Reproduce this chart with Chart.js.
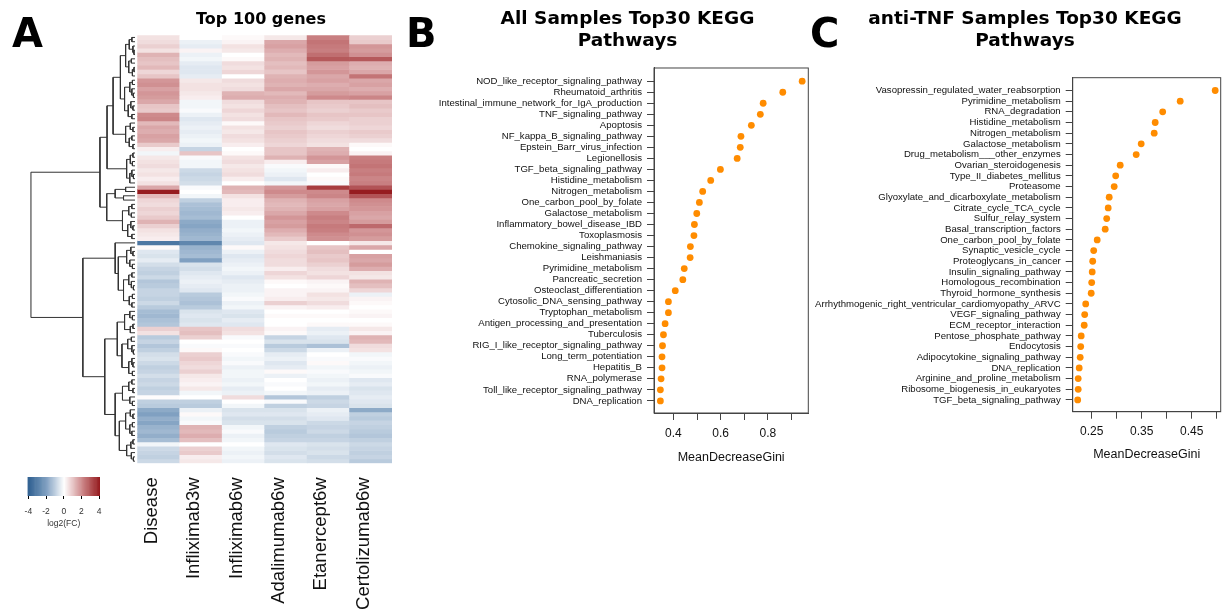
<!DOCTYPE html>
<html>
<head>
<meta charset="utf-8">
<script src="https://cdn.jsdelivr.net/npm/chart.js@4.4.1/dist/chart.umd.min.js"></script>
<style>
  body { margin:0; background:#fff; width:1226px; height:615px; overflow:hidden; position:relative; }
  canvas { position:absolute; }
  .tag { position:absolute; font-family:"DejaVu Sans"; font-weight:bold; font-size:40px; line-height:40px; color:#000; }
</style>
</head>
<body>
<canvas id="dendro" width="120" height="470" style="left:20px;top:0px"></canvas>
<canvas id="heat" width="262" height="615" style="left:130px;top:0px"></canvas>
<canvas id="cbar" width="100" height="62" style="left:20px;top:470px"></canvas>
<canvas id="chartB" width="455" height="480" style="left:400px;top:0px"></canvas>
<canvas id="chartC" width="430" height="480" style="left:810px;top:0px"></canvas>
<div class="tag" style="left:12px;top:13px">A</div>
<div class="tag" style="left:406px;top:13px">B</div>
<div class="tag" style="left:810px;top:13px">C</div>
<script>
//Heatmap columns
var columns = ['Disease', 'Infliximab3w', 'Infliximab6w', 'Adalimumab6w', 'Etanercept6w', 'Certolizumab6w'];

//log2(FC) per column, rows in dendrogram order
var disease = [0.5,0.6,0.8,0.5,1.3,1.1,1.0,1.2,0.7,1.0, 1.8,1.9,1.6,1.8,1.7,1.5,1.0,0.9,2.0,2.1,
  1.2,1.5,1.4,1.6,1.5,0.9,0.3,-0.2,0.4,0.5, 0.6,0.4,0.5,0.3,0.5,1.5,4.0,1.2,0.7,0.6,
  0.8,0.7,0.9,1.3,0.8,0.5,0.4,0.3,-3.3,0.1, -0.5,-0.6,-0.4,-0.7,-0.9,-1.0,-0.8,-1.2,-1.1,-0.9,
  -0.9,-1.0,-0.8,-1.1,-1.4,-1.5,-1.3,-1.2,0.8,0.5, -1.1,-0.9,-1.2,-1.0,-0.7,-0.6,-0.8,-1.0,-0.9,-0.7,
  -0.9,-0.8,-1.0,-0.9,0.05,-1.0,-1.1,-1.8,-2.0,-1.7, -1.9,-1.6,-1.5,-1.7,-1.4,-0.2,-0.8,-0.9,-1.0,-0.8];
var inflix3w = [0.0,-0.3,-0.4,0.2,-0.3,-0.2,-0.4,-0.5,-0.5,-0.4, 0.4,0.5,0.5,0.4,0.3,-0.2,-0.2,-0.1,-0.3,-0.5,
  -0.4,-0.3,-0.4,-0.3,-0.2,-0.3,-0.9,1.0,-0.1,-0.2, -0.2,-0.8,-0.9,-0.8,-0.7,-0.1,0.0,-0.2,-1.0,-1.3,
  -1.4,-1.5,-1.4,-1.8,-1.9,-1.7,-1.6,-1.5,-2.8,-1.6, -1.5,-1.4,-2.0,-0.6,-0.7,-0.5,-0.4,-0.3,-0.4,-0.5,
  -1.1,-1.2,-1.3,-1.1,-0.6,-0.5,-0.6,-0.5,1.0,1.1, 0.8,0.0,-0.1,0.1,0.8,0.9,0.7,0.6,0.8,0.4,
  0.3,0.2,0.4,-0.2,0.0,-1.0,-1.1,-0.3,0.1,-0.2, -0.1,1.3,1.2,1.4,1.1,0.0,0.8,0.9,0.3,0.4];
var inflix6w = [0.1,0.2,0.5,0.4,0.0,0.1,0.6,0.5,0.7,0.0, 0.6,0.5,0.6,1.3,1.4,0.6,0.5,0.7,0.5,0.6,
  0.1,0.5,0.4,0.6,0.5,0.3,0.0,0.1,0.5,0.6, 0.4,0.5,0.6,0.3,0.0,1.3,1.2,0.5,0.3,0.3,
  0.4,0.3,0.0,-0.3,-0.3,-0.2,-0.3,-0.4,-0.5,0.1, -0.3,-0.5,-0.4,-0.3,-0.2,-0.3,-0.5,-0.4,-0.3,-0.3,
  -0.2,-0.1,-0.3,-0.2,-0.5,-0.6,-0.4,-0.5,0.6,0.5, -0.1,0.0,-0.1,0.0,-0.1,-0.2,-0.1,-0.3,-0.2,-0.2,
  -0.3,-0.2,-0.4,-0.3,0.6,0.0,-0.2,-0.6,-0.5,-0.7, -0.6,-0.2,-0.1,-0.3,-0.2,0.0,-0.2,-0.3,-0.2,-0.3];
var adalim6w = [0.4,1.5,1.6,1.4,1.2,1.3,1.1,1.2,1.0,1.3, 1.4,1.3,1.5,1.2,1.4,1.3,1.1,1.0,1.2,1.0,
  0.9,0.8,1.0,0.9,0.8,0.7,1.0,1.0,1.3,0.3, -0.1,-0.2,-0.3,-0.5,-0.2,1.8,2.0,1.7,1.3,1.2,
  1.3,1.5,1.8,1.6,1.7,1.4,1.2,0.9,0.4,0.5, 0.6,0.7,0.6,0.6,0.3,0.7,0.5,0.1,0.0,0.2,
  0.2,0.3,0.8,0.2,0.0,0.1,0.0,0.0,0.2,0.1, -0.9,-0.6,-1.1,-0.8,-0.4,-0.3,-0.5,-0.4,0.1,-0.3,
  0.0,-0.1,0.0,-0.2,-1.2,-0.1,-1.0,-0.6,-0.5,-0.7, -0.6,-1.0,-1.1,-1.0,-0.9,-0.5,-0.6,-0.7,-0.5,-0.6];
var etaner6w = [2.2,2.4,2.3,2.2,2.5,2.9,1.7,1.6,1.8,1.5, 1.6,1.4,1.5,1.7,2.0,1.0,0.9,0.8,1.0,0.9,
  0.7,0.6,0.8,0.7,0.6,0.5,1.3,1.4,1.8,1.6, 0.1,0.3,0.0,0.1,-0.1,3.4,2.0,2.1,1.6,1.5,
  1.6,2.0,2.2,2.1,2.3,2.2,2.0,1.9,0.0,1.0, 1.1,0.9,1.0,0.8,0.6,0.5,0.7,0.2,0.1,0.2,
  0.5,0.4,0.6,0.3,0.0,0.1,0.0,0.1,-0.4,-0.3, -0.5,-0.6,-1.3,-0.3,0.0,-0.1,0.1,-0.2,-0.1,-0.2,
  -0.3,-0.2,-0.4,-0.3,-1.0,-0.8,-0.9,-0.3,-0.4,-0.5, -0.8,-0.9,-0.8,-1.0,-0.9,-0.6,-0.7,-0.6,-0.8,-0.7];
var certol6w = [0.8,0.9,1.8,1.7,1.9,2.9,1.4,1.3,1.5,2.4, 1.5,1.6,1.4,1.6,2.1,1.0,1.1,0.9,1.0,0.8,
  0.8,0.7,0.9,0.8,0.6,0.1,0.0,0.2,2.2,2.3, 2.4,2.2,2.3,2.1,2.2,3.0,4.0,3.0,2.0,1.9,
  1.8,1.6,1.5,1.7,2.6,1.8,1.9,1.7,0.4,1.5, 0.0,1.6,1.5,1.7,1.4,0.5,0.4,1.3,1.1,0.7,
  -0.3,0.2,0.1,0.0,0.1,0.2,0.0,0.1,0.4,0.2, 1.3,1.2,0.6,0.5,-0.2,-0.1,-0.2,-0.3,-0.2,-0.1,
  -0.5,-0.4,-0.6,-0.5,-0.4,-0.5,-0.6,-1.8,-1.0,-1.1, -0.9,-1.0,-1.1,-1.2,-1.0,-0.8,-0.9,-1.0,-0.9,-1.1];

//Row dendrogram: [height, left, right], 0 = leaf
var rowTree = [10,
  [3.36,
    [2.68,
      [2.1,
        [1.4,
          [0.9, [0.55,[0.3,0,0],[0.2,0,[0.1,0,0]]], [0.6,[0.35,0,0],[0.25,[0.1,0,0],0]]],
          [1.0, [0.5,[0.25,0,0],[0.3,0,[0.15,0,0]]], [0.65,[0.4,0,[0.2,0,0]],[0.3,0,0]]]],
        [0.9, [0.45,0,[0.2,0,0]], [0.55,[0.3,0,0],[0.2,0,0]]]],
      [0.8, [0.45,[0.2,0,0],[0.25,0,0]], [0.5,[0.3,0,[0.15,0,0]],0]]],
    [2.71,
      [1.9, [0.9,0,0], [1.1,0,0]],
      [1.2, [0.6,[0.3,0,0],[0.35,0,0]], [0.7,[0.4,0,[0.2,0,0]],[0.3,0,0]]]]],
  [5.0,
    [1.9, 0,
      [1.6, [0.8,[0.4,0,[0.2,0,0]],[0.5,0,[0.25,0,0]]],
            [1.1,[0.6,[0.3,0,0],[0.35,0,[0.15,0,0]]],[0.55,[0.25,0,0],[0.3,0,0]]]]],
    [2.9,
      [1.7, [1.0,[0.5,0,[0.25,0,0]],[0.45,[0.2,0,0],0]],
            [1.25,[0.7,[0.35,0,0],[0.3,0,[0.15,0,0]]],[0.6,[0.3,0,[0.2,0,0]],[0.25,0,0]]]],
      [1.9, [1.2,[0.6,[0.3,0,0],[0.2,0,0]],[0.5,0,[0.25,0,0]]],
            [1.5,[0.9,[0.45,0,[0.2,0,0]],[0.5,[0.25,0,0],[0.3,0,0]]],[0.8,[0.4,[0.2,0,0],0],[0.35,0,[0.15,0,0]]]]]]]];

//Colour bar
var cbarTicks = [-4, -2, 0, 2, 4];

//Panel B
var bNames = ['NOD_like_receptor_signaling_pathway','Rheumatoid_arthritis','Intestinal_immune_network_for_IgA_production',
  'TNF_signaling_pathway','Apoptosis','NF_kappa_B_signaling_pathway','Epstein_Barr_virus_infection','Legionellosis',
  'TGF_beta_signaling_pathway','Histidine_metabolism','Nitrogen_metabolism','One_carbon_pool_by_folate',
  'Galactose_metabolism','Inflammatory_bowel_disease_IBD','Toxoplasmosis','Chemokine_signaling_pathway',
  'Leishmaniasis','Pyrimidine_metabolism','Pancreatic_secretion','Osteoclast_differentiation',
  'Cytosolic_DNA_sensing_pathway','Tryptophan_metabolism','Antigen_processing_and_presentation','Tuberculosis',
  'RIG_I_like_receptor_signaling_pathway','Long_term_potentiation','Hepatitis_B','RNA_polymerase',
  'Toll_like_receptor_signaling_pathway','DNA_replication'];
var bGini = [0.945,0.863,0.780,0.768,0.730,0.686,0.683,0.670,0.599,0.558,0.524,0.510,0.499,0.489,0.487,
  0.472,0.471,0.446,0.440,0.408,0.379,0.379,0.365,0.358,0.354,0.352,0.352,0.348,0.345,0.345];
var bTicks = [0.4, 0.5, 0.6, 0.7, 0.8, 0.9];
var bTickLabels = ['0.4', '', '0.6', '', '0.8', ''];

//Panel C
var cNames = ['Vasopressin_regulated_water_reabsorption','Pyrimidine_metabolism','RNA_degradation',
  'Histidine_metabolism','Nitrogen_metabolism','Galactose_metabolism','Drug_metabolism___other_enzymes',
  'Ovarian_steroidogenesis','Type_II_diabetes_mellitus','Proteasome','Glyoxylate_and_dicarboxylate_metabolism',
  'Citrate_cycle_TCA_cycle','Sulfur_relay_system','Basal_transcription_factors','One_carbon_pool_by_folate',
  'Synaptic_vesicle_cycle','Proteoglycans_in_cancer','Insulin_signaling_pathway','Homologous_recombination',
  'Thyroid_hormone_synthesis','Arrhythmogenic_right_ventricular_cardiomyopathy_ARVC','VEGF_signaling_pathway',
  'ECM_receptor_interaction','Pentose_phosphate_pathway','Endocytosis','Adipocytokine_signaling_pathway',
  'DNA_replication','Arginine_and_proline_metabolism','Ribosome_biogenesis_in_eukaryotes','TGF_beta_signaling_pathway'];
var cGini = [0.497,0.427,0.392,0.377,0.375,0.349,0.339,0.307,0.298,0.295,0.285,0.283,0.280,0.277,0.261,
  0.254,0.252,0.251,0.250,0.249,0.238,0.236,0.235,0.229,0.228,0.227,0.225,0.223,0.223,0.222];
var cTicks = [0.25, 0.30, 0.35, 0.40, 0.45, 0.50];
var cTickLabels = ['0.25', '', '0.35', '', '0.45', ''];

//--------------------------------------------------------------
var colorStops = [[-4,[49,97,146]], [-2,[128,160,193]], [0,[255,255,255]], [2,[206,138,140]], [4,[150,28,32]]];

function fcColor(v) {
  if (v <= colorStops[0][0]) v = colorStops[0][0];
  if (v >= 4) v = 4;
  for (var i = 0; i < colorStops.length - 1; i++) {
    var a = colorStops[i], b = colorStops[i + 1];
    if (v >= a[0] && v <= b[0]) {
      var t = (v - a[0]) / (b[0] - a[0]);
      var c = a[1].map(function (x, k) { return Math.round(x + (b[1][k] - x) * t); });
      return 'rgb(' + c.join(',') + ')';
    }
  }
  return '#fff';
}

//stop the axis from pushing the plot in for its end labels
function noEdgePadding(s) {
  s.paddingLeft = 0;
  s.paddingRight = 0;
}

Chart.defaults.font.family = '"Liberation Sans", Arial, sans-serif';
Chart.defaults.animation = false;
Chart.defaults.responsive = false;
Chart.defaults.plugins.legend.display = false;
Chart.defaults.plugins.tooltip.enabled = false;

//Draws the box round a plot
var boxPlugin = {
  id: 'box',
  afterDraw: function (chart) {
    var a = chart.chartArea, c = chart.ctx;
    c.save();
    c.strokeStyle = '#444';
    c.lineWidth = 1;
    c.strokeRect(a.left, a.top, a.right - a.left, a.bottom - a.top);
    c.restore();
  }
};

//Dendrogram segments
var leafCount = 0;
var dendroPts = [];
function layoutTree(node) {
  if (!Array.isArray(node)) {
    var y = leafCount + 0.5;
    leafCount++;
    return { h: 0, y: y };
  }
  var a = layoutTree(node[1]);
  var b = layoutTree(node[2]);
  dendroPts.push({x: a.h, y: a.y}, {x: node[0], y: a.y}, {x: node[0], y: b.y}, {x: b.h, y: b.y}, {x: NaN, y: NaN});
  return { h: node[0], y: (a.y + b.y) / 2 };
}
layoutTree(rowTree);

new Chart(document.getElementById('dendro'), {
  type: 'scatter',
  data: { datasets: [{ data: dendroPts, showLine: true, spanGaps: false, borderColor: '#333', borderWidth: 1, pointRadius: 0 }] },
  options: {
    layout: { padding: { left: 10.7, right: 5, top: 35.3, bottom: 6.7 } },
    scales: {
      x: { type: 'linear', min: 0, max: 10, reverse: true, display: false },
      y: { type: 'linear', min: 0, max: 100, reverse: true, display: false }
    }
  }
});

//Heatmap, one floating-bar dataset per row
var colValues = [disease, inflix3w, inflix6w, adalim6w, etaner6w, certol6w];
var heatSets = [];
for (var r = 0; r < disease.length; r++) {
  heatSets.push({
    data: columns.map(function () { return [r, r + 1]; }),
    backgroundColor: colValues.map(function (c) { return fcColor(c[r]); }),
    borderWidth: 0, barPercentage: 1, categoryPercentage: 1, grouped: false
  });
}

new Chart(document.getElementById('heat'), {
  type: 'bar',
  data: { labels: columns, datasets: heatSets },
  options: {
    plugins: {
      title: { display: true, text: 'Top 100 genes', color: '#000',
        font: { family: 'DejaVu Sans', weight: 'bold', size: 16, lineHeight: 1.2 },
        padding: { top: 10.4, bottom: 5.7 } }
    },
    scales: {
      x: {
        afterFit: function (s) { s.height = 151.7; noEdgePadding(s); },
        grid: { display: false, drawTicks: false }, border: { display: false },
        ticks: { color: '#111', font: { size: 18.5 }, minRotation: 90, maxRotation: 90, autoSkip: false,
          padding: 14, labelOffset: -7 }
      },
      y: {
        min: 0, max: 100, reverse: true,
        afterFit: function (s) { s.width = 7.3; },
        ticks: { display: false }, grid: { display: false }, border: { display: false }
      }
    }
  }
});

//Colour key
var cbarSets = [];
for (var v = -4.1; v < 4.09; v += 0.1) {
  cbarSets.push({ data: [[v, v + 0.1]], backgroundColor: fcColor(v + 0.05), borderWidth: 0,
    barPercentage: 1, categoryPercentage: 1, grouped: false });
}
new Chart(document.getElementById('cbar'), {
  type: 'bar',
  data: { labels: [''], datasets: cbarSets },
  options: {
    indexAxis: 'y',
    layout: { padding: { left: 7.5, right: 20, top: 7 } },
    scales: {
      x: {
        type: 'linear', min: -4.1, max: 4.1,
        afterBuildTicks: function (s) { s.ticks = cbarTicks.map(function (t) { return { value: t }; }); },
        afterFit: function (s) { s.height = 36; noEdgePadding(s); },
        ticks: { color: '#333', font: { size: 8.5 }, padding: 8, maxRotation: 0 },
        grid: { drawOnChartArea: false, tickLength: 3, color: '#000' }, border: { display: false },
        title: { display: true, text: 'log2(FC)', color: '#333', font: { size: 8.5 }, padding: { top: 0, bottom: 3.6 } }
      },
      y: { display: false }
    }
  }
});

//Dot charts for B and C
function dotChart(id, title, names, gini, ticks, tickLabels, xMin, xMax, opt) {
  new Chart(document.getElementById(id), {
    type: 'scatter',
    data: { datasets: [{ data: gini.map(function (g, i) { return { x: g, y: i }; }),
      pointRadius: 3.4, pointBackgroundColor: 'rgb(255,140,0)', pointBorderWidth: 0 }] },
    options: {
      plugins: {
        title: { display: true, text: title, color: '#000',
          font: { family: 'DejaVu Sans', weight: 'bold', size: 18.5, lineHeight: 1.162 },
          padding: { top: 8.75, bottom: opt.titleGap } }
      },
      scales: {
        x: {
          type: 'linear', min: xMin, max: xMax,
          afterBuildTicks: function (s) { s.ticks = ticks.map(function (t) { return { value: t }; }); },
          afterFit: function (s) { s.height = opt.xHeight; },
          ticks: { callback: function (val, i) { return tickLabels[i]; }, color: '#111', font: { size: 12 },
            padding: 6, maxRotation: 0, autoSkip: false },
          grid: { drawOnChartArea: false, tickLength: 7, color: '#444' }, border: { color: '#444' },
          title: { display: true, text: 'MeanDecreaseGini', color: '#111', font: { size: 12.5 },
            padding: { top: 0, bottom: opt.xTitleGap } }
        },
        y: {
          type: 'linear', min: -1.2, max: 30.1, reverse: true,
          afterBuildTicks: function (s) { s.ticks = names.map(function (n, i) { return { value: i }; }); },
          afterFit: function (s) { s.width = opt.yWidth; },
          ticks: { callback: function (val, i) { return names[i]; }, color: '#111', font: { size: 9.6 },
            padding: 5, autoSkip: false },
          grid: { drawOnChartArea: false, tickLength: 7, color: '#444' }, border: { color: '#444' }
        },
        yr: {
          type: 'linear', position: 'right', display: true,
          afterFit: function (s) { s.width = opt.rightGap; },
          ticks: { display: false }, grid: { display: false }, border: { display: false }
        }
      }
    },
    plugins: [boxPlugin]
  });
}

dotChart('chartB', ['All Samples Top30 KEGG', 'Pathways'], bNames, bGini, bTicks, bTickLabels, 0.318, 0.971,
  { titleGap: 16.25, xHeight: 67, xTitleGap: 14.5, yWidth: 254, rightGap: 46.7 });
dotChart('chartC', ['anti-TNF Samples Top30 KEGG', 'Pathways'], cNames, cGini, cTicks, cTickLabels, 0.212, 0.508,
  { titleGap: 25.95, xHeight: 68.3, xTitleGap: 18.2, yWidth: 262.7, rightGap: 19.3 });
</script>
</body>
</html>
